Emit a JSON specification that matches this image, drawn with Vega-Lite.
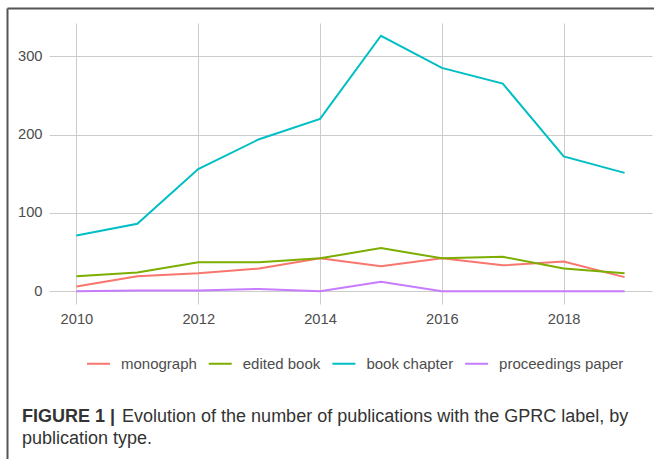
{
  "$schema": "https://vega.github.io/schema/vega-lite/v6.json",
  "width": 603,
  "height": 281,
  "autosize": {"type": "none"},
  "padding": {"left": 49, "top": 23, "right": 2, "bottom": 155},
  "background": "white",
  "config": {"view": {"stroke": null}, "font": "Liberation Sans"},
  "title": {
    "text": "FIGURE 1 |",
    "subtitle": ["\u200b\u00a0\u00a0\u00a0\u00a0\u00a0\u00a0\u00a0\u00a0\u00a0\u00a0\u00a0\u00a0\u00a0\u00a0\u00a0\u00a0\u00a0\u00a0\u00a0\u00a0Evolution of the number of publications with the GPRC label, by", "publication type."],
    "orient": "bottom",
    "anchor": "start",
    "frame": "group",
    "dx": -27,
    "offset": -67,
    "font": "Liberation Sans",
    "fontSize": 18,
    "fontWeight": "bold",
    "color": "#333333",
    "subtitleFont": "Liberation Sans",
    "subtitleFontSize": 18,
    "subtitleFontWeight": "normal",
    "subtitleColor": "#333333",
    "subtitlePadding": -18,
    "subtitleLineHeight": 22
  },
  "data": {
    "values": [
      {"year": 2010, "type": "monograph", "count": 6},
      {"year": 2011, "type": "monograph", "count": 19},
      {"year": 2012, "type": "monograph", "count": 23},
      {"year": 2013, "type": "monograph", "count": 29},
      {"year": 2014, "type": "monograph", "count": 42},
      {"year": 2015, "type": "monograph", "count": 32},
      {"year": 2016, "type": "monograph", "count": 42},
      {"year": 2017, "type": "monograph", "count": 33},
      {"year": 2018, "type": "monograph", "count": 38},
      {"year": 2019, "type": "monograph", "count": 18},
      {"year": 2010, "type": "edited book", "count": 19},
      {"year": 2011, "type": "edited book", "count": 24},
      {"year": 2012, "type": "edited book", "count": 37},
      {"year": 2013, "type": "edited book", "count": 37},
      {"year": 2014, "type": "edited book", "count": 42},
      {"year": 2015, "type": "edited book", "count": 55},
      {"year": 2016, "type": "edited book", "count": 42},
      {"year": 2017, "type": "edited book", "count": 44},
      {"year": 2018, "type": "edited book", "count": 29},
      {"year": 2019, "type": "edited book", "count": 23},
      {"year": 2010, "type": "book chapter", "count": 71},
      {"year": 2011, "type": "book chapter", "count": 86},
      {"year": 2012, "type": "book chapter", "count": 156},
      {"year": 2013, "type": "book chapter", "count": 194},
      {"year": 2014, "type": "book chapter", "count": 220},
      {"year": 2015, "type": "book chapter", "count": 326},
      {"year": 2016, "type": "book chapter", "count": 285},
      {"year": 2017, "type": "book chapter", "count": 265},
      {"year": 2018, "type": "book chapter", "count": 172},
      {"year": 2019, "type": "book chapter", "count": 151},
      {"year": 2010, "type": "proceedings paper", "count": 0},
      {"year": 2011, "type": "proceedings paper", "count": 1},
      {"year": 2012, "type": "proceedings paper", "count": 1},
      {"year": 2013, "type": "proceedings paper", "count": 3},
      {"year": 2014, "type": "proceedings paper", "count": 0},
      {"year": 2015, "type": "proceedings paper", "count": 12},
      {"year": 2016, "type": "proceedings paper", "count": 0},
      {"year": 2017, "type": "proceedings paper", "count": 0},
      {"year": 2018, "type": "proceedings paper", "count": 0},
      {"year": 2019, "type": "proceedings paper", "count": 0}
    ]
  },
  "layer": [
    {
      "mark": {"type": "point", "opacity": 0},
      "encoding": {
        "x": {
          "field": "year", "type": "quantitative",
          "scale": {"domain": [2009.55, 2019.45], "range": [-42, 606], "nice": false, "zero": false},
          "axis": {"orient": "top", "offset": 15, "domain": true, "domainColor": "#555555", "domainWidth": 2, "ticks": false, "labels": false, "grid": false, "title": null}
        },
        "y": {
          "field": "count", "type": "quantitative",
          "scale": {"domain": [-16.3, 342.3], "range": [437, -15], "nice": false, "zero": false},
          "axis": {"orient": "left", "offset": 42, "domain": true, "domainColor": "#555555", "domainWidth": 2, "ticks": false, "labels": false, "grid": false, "title": null}
        }
      }
    },
    {
      "mark": {"type": "line", "strokeWidth": 2},
      "encoding": {
        "x": {
          "field": "year", "type": "quantitative",
          "scale": {"domain": [2009.55, 2019.45], "nice": false, "zero": false},
          "axis": {"orient": "bottom", "values": [2010, 2012, 2014, 2016, 2018], "format": "d", "grid": true, "gridColor": "#cccccc", "gridWidth": 1, "ticks": false, "domain": false, "labelFontSize": 14.7, "labelColor": "#4d4d4d", "labelPadding": 7, "title": null}
        },
        "y": {
          "field": "count", "type": "quantitative",
          "scale": {"domain": [-16.3, 342.3], "nice": false, "zero": false},
          "axis": {"orient": "left", "values": [0, 100, 200, 300], "grid": true, "gridColor": "#cccccc", "gridWidth": 1, "ticks": false, "domain": false, "labelFontSize": 14.7, "labelColor": "#4d4d4d", "labelPadding": 7, "title": null}
        },
        "color": {
          "field": "type", "type": "nominal",
          "scale": {"domain": ["monograph", "edited book", "book chapter", "proceedings paper"], "range": ["#F8766D", "#7CAE00", "#00BFC4", "#C77CFF"]},
          "legend": {"orient": "none", "legendX": 37, "legendY": 328, "direction": "horizontal", "title": null, "symbolType": "stroke", "symbolSize": 529, "symbolStrokeWidth": 2, "labelFontSize": 15, "labelColor": "#4d4d4d", "labelOffset": 10, "columnPadding": 7.7, "padding": 0}
        }
      }
    }
  ],
  "resolve": {"scale": {"x": "independent", "y": "independent"}, "axis": {"x": "independent", "y": "independent"}}
}
